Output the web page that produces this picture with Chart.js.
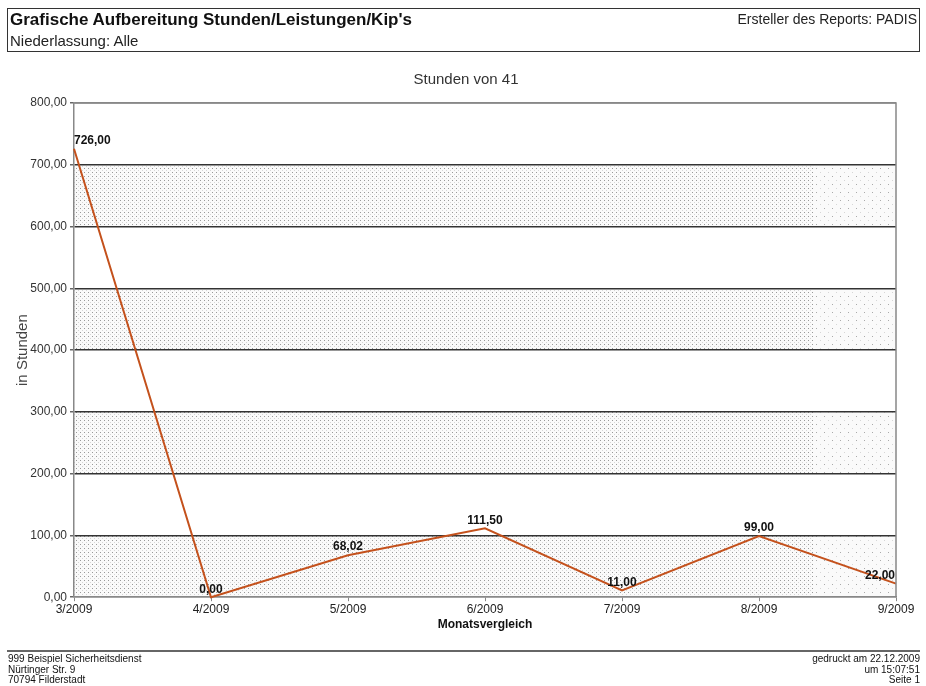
<!DOCTYPE html>
<html lang="de">
<head>
<meta charset="utf-8">
<title>Stunden von 41</title>
<script src="https://cdn.jsdelivr.net/npm/chart.js@4.4.0/dist/chart.umd.min.js"></script>
<style>
  html,body{margin:0;padding:0;background:#fff;}
  body{width:926px;height:686px;position:relative;overflow:hidden;font-family:"Liberation Sans",Arial,sans-serif;color:#111;}
  #head{position:absolute;left:7px;top:8px;width:911px;height:42px;border:1px solid #333;}
  #head .t{position:absolute;left:2px;top:1px;font-size:17px;font-weight:bold;}
  #head .s{position:absolute;left:2px;top:23px;font-size:15px;color:#222;}
  #head .r{position:absolute;right:2px;top:2px;font-size:14px;color:#222;}
  #foot{position:absolute;left:7px;top:650px;width:913px;border-top:2px solid #666;font-size:10px;line-height:10.5px;color:#111;}
  #foot .l{position:absolute;left:1px;top:2px;}
  #foot .r{position:absolute;right:0;top:2px;text-align:right;}
  #wrap{position:absolute;left:0;top:0;width:926px;height:686px;}
</style>
</head>
<body>
<div id="wrap"><canvas id="chart" width="926" height="686"></canvas></div>
<div id="head">
  <div class="t">Grafische Aufbereitung Stunden/Leistungen/Kip's</div>
  <div class="s">Niederlassung: Alle</div>
  <div class="r">Ersteller des Reports: PADIS</div>
</div>
<div id="foot">
  <div class="l">999 Beispiel Sicherheitsdienst<br>Nürtinger Str. 9<br>70794 Filderstadt</div>
  <div class="r">gedruckt am 22.12.2009<br>um 15:07:51<br>Seite 1</div>
</div>
<script>
// data
const months = ['3/2009','4/2009','5/2009','6/2009','7/2009','8/2009','9/2009'];
const hours = [726, 0, 68.02, 111.5, 11, 99, 22];
const yTicks = [0, 100, 200, 300, 400, 500, 600, 700, 800];
const shadedBands = [[0,100],[200,300],[400,500],[600,700]];
const chartTitle = 'Stunden von 41';

const fmt = v => v.toFixed(2).replace('.', ',');

// dotted fill like the printed report
const makePattern = (step, col)=>{
  const c = document.createElement('canvas');
  c.width = step; c.height = step;
  const g = c.getContext('2d');
  g.fillStyle = '#fafafa'; g.fillRect(0,0,step,step);
  g.fillStyle = col; g.fillRect(0,0,1,1);
  g.fillStyle = '#d6d6d6'; g.fillRect(Math.floor(step/2),Math.floor(step/2),1,1);
  return c;
};

const bandPlugin = {
  id:'bands',
  beforeDraw(chart){
    const {ctx, chartArea:a, scales:{y}} = chart;
    const dense = ctx.createPattern(makePattern(4,'#999'),'repeat');
    const sparse = ctx.createPattern(makePattern(8,'#aaa'),'repeat');
    const split = a.left + (a.right-a.left)*0.9;
    ctx.save();
    shadedBands.forEach(([lo,hi])=>{
      const top = y.getPixelForValue(hi), bot = y.getPixelForValue(lo);
      ctx.fillStyle = dense;
      ctx.fillRect(a.left, top, split-a.left, bot-top);
      ctx.fillStyle = sparse;
      ctx.fillRect(split, top, a.right-split, bot-top);
    });
    // chart title, centred on the page like the report
    ctx.font = '15px "Liberation Sans", Arial, sans-serif';
    ctx.fillStyle = '#333';
    ctx.textAlign = 'center';
    ctx.textBaseline = 'middle';
    ctx.fillText(chartTitle, 466, 80);
    ctx.restore();
  },
  afterDatasetsDraw(chart){
    const {ctx, chartArea:a} = chart;
    ctx.save();
    ctx.strokeStyle = '#888'; ctx.lineWidth = 1.5;
    ctx.beginPath();
    ctx.moveTo(a.left, a.top); ctx.lineTo(a.right, a.top); ctx.lineTo(a.right, a.bottom);
    ctx.stroke();
    // value labels
    const meta = chart.getDatasetMeta(0);
    ctx.font = 'bold 12px "Liberation Sans", Arial, sans-serif';
    ctx.fillStyle = '#111';
    ctx.textBaseline = 'bottom';
    meta.data.forEach((pt,i)=>{
      const last = i === meta.data.length-1;
      ctx.textAlign = i===0 ? 'left' : (last ? 'right' : 'center');
      const x = i===0 ? pt.x : (last ? pt.x-1 : pt.x);
      ctx.fillText(fmt(hours[i]), x, pt.y - 2);
    });
    ctx.restore();
  }
};

new Chart(document.getElementById('chart'), {
  type:'line',
  data:{labels:months, datasets:[{data:hours, borderColor:'#c4511c', borderWidth:2, pointRadius:0, tension:0, clip:false}]},
  plugins:[bandPlugin],
  options:{
    responsive:false, animation:false,
    layout:{padding:{left:0, right:30, top:103, bottom:54}},
    plugins:{legend:{display:false}, tooltip:{enabled:false}, title:{display:false}},
    scales:{
      x:{
        offset:false,
        grid:{drawOnChartArea:false, color:'#888', tickLength:4},
        border:{color:'#888', width:1.5},
        ticks:{color:'#222', padding:1, maxRotation:0, autoSkip:false,
          font:{family:'"Liberation Sans", Arial, sans-serif', size:12}},
        title:{display:true, text:'Monatsvergleich', color:'#111', padding:{top:0,bottom:0},
          font:{family:'"Liberation Sans", Arial, sans-serif', size:12, weight:'bold'}}
      },
      y:{
        min:0, max:800,
        afterBuildTicks(s){ s.ticks = yTicks.map(v=>({value:v})); },
        afterFit(s){ s.width = 74; },
        grid:{color:c=>(c.tick && (c.tick.value===0 || c.tick.value===800)) ? '#888' : '#333',
          lineWidth:1.5, tickLength:4, tickColor:'#666'},
        border:{color:'#888', width:1.5},
        ticks:{color:'#333', padding:3, callback:v=>fmt(v),
          font:{family:'"Liberation Sans", Arial, sans-serif', size:12}},
        title:{display:true, text:'in Stunden', color:'#444', padding:{top:14,bottom:0},
          font:{family:'"Liberation Sans", Arial, sans-serif', size:15}}
      }
    }
  }
});
</script>
</body>
</html>
